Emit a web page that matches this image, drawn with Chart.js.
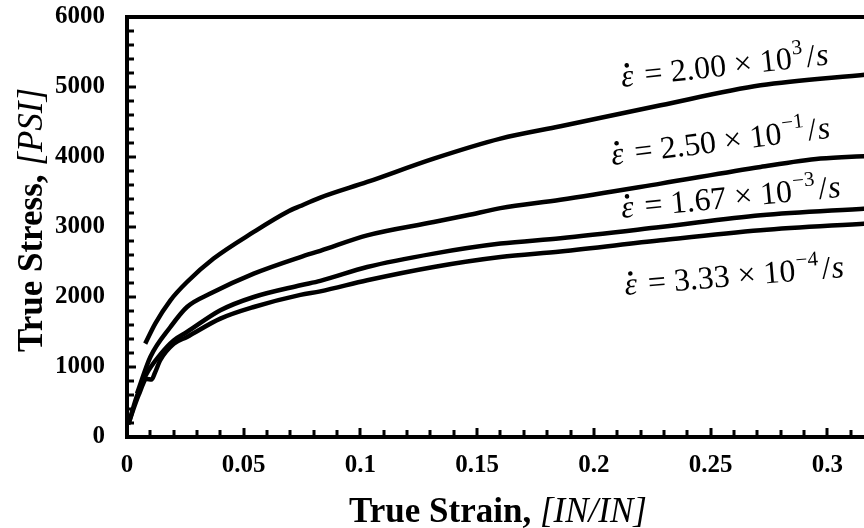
<!DOCTYPE html>
<html>
<head>
<meta charset="utf-8">
<script src="https://cdn.jsdelivr.net/npm/chart.js@4"></script>
<style>
  html,body{margin:0;padding:0;background:#fff;overflow:hidden;}
  #wrap{width:964px;height:528px;}
</style>
</head>
<body>
<div id="wrap"><canvas id="stressChart" width="964" height="528"></canvas></div>
<script>
// true strain / true stress readings for each strain rate
const strainA = [0.0078,0.0121,0.0186,0.0257,0.0371,0.0543,0.0686,0.0743,0.0828,0.1029,0.1314,0.16,0.1857,0.2286,0.2714,0.317];
const stressA = [1334,1620,1953,2214,2549,2929,3214,3300,3420,3643,3977,4263,4440,4739,5024,5180];

const strainB = [0.0043,0.010,0.0186,0.0257,0.0357,0.0543,0.0743,0.0828,0.1029,0.1314,0.1457,0.16,0.1857,0.2286,0.2714,0.2971,0.317];
const stressB = [620,1143,1571,1857,2049,2334,2571,2660,2881,3071,3167,3270,3390,3620,3857,3977,4015];

const strainC = [0.0007,0.004,0.008,0.0143,0.02,0.0257,0.040,0.0543,0.0743,0.0828,0.1029,0.1314,0.16,0.1857,0.2286,0.2714,0.317];
const stressC = [190,560,880,1180,1380,1500,1810,2000,2167,2230,2429,2620,2763,2840,3000,3167,3265];

const strainD = [0.0005,0.005,0.0085,0.0105,0.012,0.0143,0.02,0.0257,0.040,0.0543,0.0743,0.0828,0.1029,0.1314,0.16,0.1857,0.2286,0.2714,0.317];
const stressD = [180,600,830,820,920,1100,1330,1430,1691,1857,2030,2080,2239,2429,2571,2650,2810,2953,3050];

const rateMantissa = ['2.00','2.50','1.67','3.33'];
const rateExponent = ['3','\u22121','\u22123','\u22124'];

const xTicks = [0,0.05,0.1,0.15,0.2,0.25,0.3,0.35];
const yTicks = [0,1000,2000,3000,4000,5000,6000];

const toPoints = (xs,ys) => xs.map((x,i)=>({x, y:ys[i]}));

const SERIF = '"Liberation Serif","Times New Roman",serif';

// rotated rate labels, anchored in data units at the start of the baseline
const labelPlacement = [
  {x:0.2121, y:5000, angle:-6.2},
  {x:0.2079, y:3886, angle:-7.1},
  {x:0.2121, y:3129, angle:-5.5},
  {x:0.2134, y:2029, angle:-4.7}
];

function drawRateLabel(ctx, px, py, angle, mant, exp){
  ctx.save();
  ctx.translate(px, py);
  ctx.rotate(angle*Math.PI/180);
  ctx.fillStyle = '#000';
  ctx.textBaseline = 'alphabetic';
  ctx.textAlign = 'left';
  let cx = 0;
  ctx.font = `italic 32px ${SERIF}`;
  ctx.fillText('\u03b5', cx, 0);
  const ew = ctx.measureText('\u03b5').width;
  ctx.beginPath();
  ctx.arc(cx + ew*0.55, -21, 2.3, 0, Math.PI*2);
  ctx.fill();
  cx += ew + 3;
  ctx.font = `32px ${SERIF}`;
  const body = ` = ${mant} \u00d7 10`;
  ctx.fillText(body, cx, 0);
  cx += ctx.measureText(body).width;
  ctx.font = `21px ${SERIF}`;
  ctx.fillText(exp, cx + 1, -14);
  cx += ctx.measureText(exp).width + 4;
  ctx.font = `32px ${SERIF}`;
  ctx.fillText('/', cx, 0);
  cx += ctx.measureText('/').width + 1;
  ctx.font = `italic 32px ${SERIF}`;
  ctx.fillText('s', cx, 0);
  ctx.restore();
}

function drawMixedTitle(ctx, parts, x, y, rotate){
  ctx.save();
  ctx.translate(x, y);
  if(rotate) ctx.rotate(-Math.PI/2);
  ctx.fillStyle = '#000';
  ctx.textBaseline = 'alphabetic';
  ctx.textAlign = 'left';
  let total = 0;
  parts.forEach(p=>{ ctx.font = p.font; total += ctx.measureText(p.text).width; });
  let cx = -total/2;
  parts.forEach(p=>{
    ctx.font = p.font;
    ctx.fillText(p.text, cx, 0);
    cx += ctx.measureText(p.text).width;
  });
  ctx.restore();
}

const framePlugin = {
  id:'frame',
  afterDatasetsDraw(chart){
    const {ctx, chartArea:a, scales:{x, y}} = chart;
    ctx.save();
    ctx.strokeStyle = '#000';
    ctx.lineWidth = 3;
    // inward ticks: minor every 200 psi / 0.01 strain
    for(let i=0;i<=30;i++){
      const py = Math.round(y.getPixelForValue(i*200));
      const len = i%5===0 ? 9 : 7;
      ctx.beginPath(); ctx.moveTo(a.left, py); ctx.lineTo(a.left+len, py); ctx.stroke();
    }
    for(let i=0;i<=35;i++){
      const px = Math.round(x.getPixelForValue(i*0.01));
      const len = i%5===0 ? 9 : 7;
      ctx.beginPath(); ctx.moveTo(px, a.bottom); ctx.lineTo(px, a.bottom-len); ctx.stroke();
    }
    ctx.lineWidth = 4;
    ctx.strokeRect(a.left, a.top, a.right-a.left, a.bottom-a.top);
    ctx.restore();

    labelPlacement.forEach((p,i)=>{
      drawRateLabel(ctx, x.getPixelForValue(p.x), y.getPixelForValue(p.y), p.angle, rateMantissa[i], rateExponent[i]);
    });

    drawMixedTitle(ctx, [
      {text:'True Strain, ', font:`bold 35px ${SERIF}`},
      {text:'[IN/IN]', font:`italic 35px ${SERIF}`}
    ], 498, 522, false);
    drawMixedTitle(ctx, [
      {text:'True Stress, ', font:`bold 35px ${SERIF}`},
      {text:'[PSI]', font:`italic 35px ${SERIF}`}
    ], 42, 220, true);
  }
};

const lineStyle = {
  borderColor:'#000',
  borderWidth:4.5,
  pointRadius:0,
  fill:false,
  cubicInterpolationMode:'monotone'
};

new Chart(document.getElementById('stressChart'), {
  type:'line',
  data:{
    datasets:[
      {label:'2.00e3', data:toPoints(strainA, stressA), ...lineStyle},
      {label:'2.50e-1', data:toPoints(strainB, stressB), ...lineStyle},
      {label:'1.67e-3', data:toPoints(strainC, stressC), ...lineStyle},
      {label:'3.33e-4', data:toPoints(strainD, stressD), ...lineStyle}
    ]
  },
  options:{
    responsive:false,
    animation:false,
    layout:{padding:{top:17, right:20, left:0, bottom:0}},
    plugins:{legend:{display:false}, tooltip:{enabled:false}},
    scales:{
      x:{
        type:'linear',
        min:0, max:0.35,
        afterFit:s=>{ s.height = 91; s.paddingLeft = 0; s.paddingRight = 0; },
        afterBuildTicks:s=>{ s.ticks = xTicks.map(v=>({value:v})); },
        grid:{display:false, drawTicks:false},
        border:{display:false},
        ticks:{
          color:'#000',
          padding:14,
          maxRotation:0,
          autoSkip:false,
          font:{family:'Liberation Serif', size:25, weight:'bold'},
          callback:v=>String(+v.toFixed(2))
        }
      },
      y:{
        type:'linear',
        min:0, max:6000,
        afterFit:s=>{ s.width = 127; s.paddingTop = 0; s.paddingBottom = 0; },
        afterBuildTicks:s=>{ s.ticks = yTicks.map(v=>({value:v})); },
        grid:{display:false, drawTicks:false},
        border:{display:false},
        ticks:{
          color:'#000',
          padding:22,
          font:{family:'Liberation Serif', size:25, weight:'bold'},
          callback:v=>String(v)
        }
      }
    }
  },
  plugins:[framePlugin]
});
</script>
</body>
</html>
